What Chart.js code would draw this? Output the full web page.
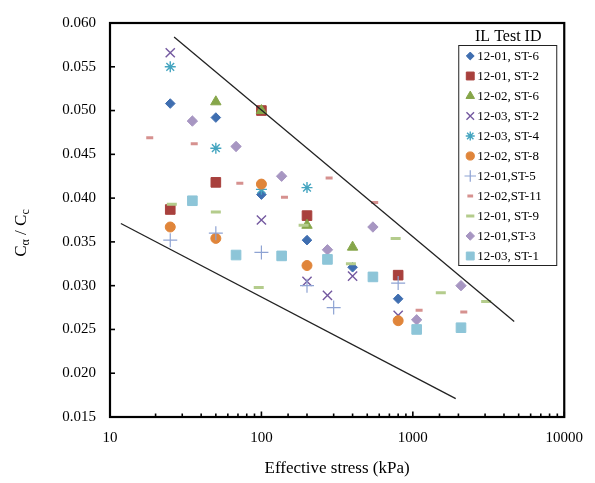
<!DOCTYPE html>
<html>
<head>
<meta charset="utf-8">
<script src="https://cdn.jsdelivr.net/npm/chart.js"></script>
<style>
  html, body { margin: 0; padding: 0; background: #fff; }
  #wrap { width: 595px; height: 483px; }
</style>
</head>
<body>
<div id="wrap"><canvas id="chart" width="595" height="483"></canvas></div>
<script>
// data: [effective stress (kPa), Ca/Cc]
const s1201_ST6 = [[25, 0.0508], [50, 0.0492], [100, 0.0404], [200, 0.0352], [400, 0.0321], [800, 0.0285]];
const s1201_ST2 = [[25, 0.0387], [50, 0.0418], [100, 0.0500], [200, 0.0380], [800, 0.0312]];
const s1202_ST6 = [[50, 0.0510], [100, 0.0500], [200, 0.0369], [400, 0.0344]];
const s1203_ST2 = [[25, 0.0566], [100, 0.0375], [200, 0.0305], [273, 0.0289], [400, 0.0311], [800, 0.0266]];
const s1203_ST4 = [[25, 0.0550], [50, 0.0457], [100, 0.0410], [200, 0.0412]];
const s1202_ST8 = [[25, 0.0367], [50, 0.0354], [100, 0.0416], [200, 0.0323], [800, 0.0260]];
const s1201_ST5 = [[25, 0.0352], [50, 0.0360], [100, 0.0338], [200, 0.0300], [300, 0.0275], [800, 0.0303]];
const s1202_ST11 = [[18.3, 0.0469], [36, 0.0462], [72, 0.0417], [142, 0.0401], [280, 0.0423], [560, 0.0395], [1100, 0.0272], [2170, 0.0270]];
const s1201_ST9 = [[25.6, 0.0393], [50, 0.0384], [96, 0.0298], [190, 0.0369], [390, 0.0325], [770, 0.0354], [1530, 0.0292], [3050, 0.0282]];
const s1201_ST3 = [[35, 0.0488], [68, 0.0459], [136, 0.0425], [273, 0.0341], [545, 0.0367], [1060, 0.0261], [2080, 0.0300]];
const s1203_ST1 = [[35, 0.0397], [68, 0.0335], [136, 0.0334], [273, 0.0330], [545, 0.0310], [1060, 0.0250], [2080, 0.0252]];

// bounding lines
const upperBound = [[26.5, 0.0584], [4670, 0.0259]];
const lowerBound = [[11.8, 0.0371], [1920, 0.0171]];

const seriesNames = ['12-01, ST-6', '12-01, ST-2', '12-02, ST-6', '12-03, ST-2', '12-03, ST-4', '12-02, ST-8',
                     '12-01,ST-5', '12-02,ST-11', '12-01, ST-9', '12-01,ST-3', '12-03, ST-1'];
const seriesData = [s1201_ST6, s1201_ST2, s1202_ST6, s1203_ST2, s1203_ST4, s1202_ST8,
                    s1201_ST5, s1202_ST11, s1201_ST9, s1201_ST3, s1203_ST1];
const yTickStep = 0.005;
const xLabelled = [10, 100, 1000, 10000];

// marker looks (Excel style)
const markers = [
    { color: '#3F6EB0', style: 'rectRot', r: 4.8, w: 1 },
    { color: '#A8403D', style: 'rect', r: 6.8, w: 1 },
    { color: '#86A64A', style: 'triangle', r: 6, w: 1 },
    { color: '#7459A0', style: 'crossRot', r: 6.5, w: 1.4 },
    { color: '#45A5C0', style: 'star', r: 5.5, w: 1.4 },
    { color: '#E0853A', style: 'circle', r: 5, w: 1 },
    { color: '#8EA3D3', style: 'cross', r: 7, w: 1.2 },
    { color: '#D6918F', style: 'line', r: 3.5, w: 3 },
    { color: '#B4CC8C', style: 'line', r: 5, w: 3 },
    { color: '#A796C2', style: 'rectRot', r: 5.2, w: 1 },
    { color: '#8DC5D8', style: 'rect', r: 6.8, w: 1 }
];

const toPts = arr => arr.map(([x, y]) => ({ x: x, y: y }));

// later series sit on top, like in the original
const datasets = seriesData.map((d, i) => ({
    label: seriesNames[i],
    data: toPts(d),
    order: 50 - i,
    pointStyle: markers[i].style,
    pointRadius: markers[i].r,
    pointBorderWidth: markers[i].w,
    backgroundColor: markers[i].color,
    borderColor: markers[i].color,
    showLine: false
}));

[upperBound, lowerBound].forEach(b => {
    datasets.push({
        label: '',
        data: toPts(b),
        order: 0,
        showLine: true,
        pointRadius: 0,
        borderColor: '#222',
        borderWidth: 1.3
    });
});

const serif = '"Liberation Serif", "Times New Roman", serif';

// frame, inside ticks, y title and the boxed legend
const decor = {
    id: 'decor',
    afterDraw(chart) {
        const ctx = chart.ctx;
        const a = chart.chartArea;
        const xs = chart.scales.x, ys = chart.scales.y;
        ctx.save();
        ctx.strokeStyle = '#000';
        ctx.lineWidth = 1.6;
        ys.ticks.forEach(t => {
            const py = ys.getPixelForValue(t.value);
            ctx.beginPath(); ctx.moveTo(a.left, py); ctx.lineTo(a.left + 5, py); ctx.stroke();
        });
        xs.ticks.forEach(t => {
            const px = xs.getPixelForValue(t.value);
            const major = xLabelled.includes(t.value);
            ctx.beginPath(); ctx.moveTo(px, a.bottom); ctx.lineTo(px, a.bottom - (major ? 5.5 : 3.5)); ctx.stroke();
        });
        ctx.lineWidth = 2.2;
        ctx.strokeRect(a.left, a.top, a.right - a.left, a.bottom - a.top);

        // y axis title: C_alpha / C_c
        ctx.fillStyle = '#000';
        ctx.translate(21, 233);
        ctx.rotate(-Math.PI / 2);
        const big = '17px ' + serif, small = '12px ' + serif;
        const parts = [['C', big, 0], ['\u03b1', small, 4], [' / C', big, 0], ['c', small, 4]];
        let total = 0;
        parts.forEach(p => { ctx.font = p[1]; total += ctx.measureText(p[0]).width; });
        let cx = -total / 2;
        ctx.textBaseline = 'middle';
        ctx.textAlign = 'left';
        parts.forEach(p => {
            ctx.font = p[1];
            ctx.fillText(p[0], cx, p[2] + 1);
            cx += ctx.measureText(p[0]).width;
        });
        ctx.setTransform(1, 0, 0, 1, 0, 0);

        // legend
        const bx = a.right - 106, by = 45, bw = 98, bh = 220;
        ctx.fillStyle = '#fff';
        ctx.fillRect(bx, by, bw, bh);
        ctx.lineWidth = 1;
        ctx.strokeStyle = '#222';
        ctx.strokeRect(bx + 0.5, by + 0.5, bw, bh);
        ctx.fillStyle = '#000';
        ctx.font = '16px ' + serif;
        ctx.textAlign = 'center';
        ctx.textBaseline = 'middle';
        ctx.fillText('IL Test ID', bx + 50, 37);
        ctx.font = '13px ' + serif;
        ctx.textAlign = 'left';
        seriesNames.forEach((name, i) => {
            const y = by + 11 + i * 20;
            const m = markers[i];
            ctx.fillStyle = m.color;
            ctx.strokeStyle = m.color;
            ctx.lineWidth = m.w;
            Chart.helpers.drawPoint(ctx, { pointStyle: m.style, rotation: 0, radius: m.r * 0.82, borderWidth: m.w }, bx + 12, y);
            ctx.fillStyle = '#000';
            ctx.fillText(name, bx + 19, y + 1);
        });
        ctx.restore();
    }
};

new Chart(document.getElementById('chart'), {
    type: 'scatter',
    data: { datasets: datasets },
    options: {
        responsive: false,
        animation: false,
        layout: { padding: { left: 0, right: 29, top: 13, bottom: 0 } },
        plugins: {
            legend: { display: false },
            tooltip: { enabled: false }
        },
        scales: {
            x: {
                type: 'logarithmic',
                min: 10,
                max: 10000,
                grid: { display: false, drawTicks: false },
                border: { display: false },
                ticks: {
                    autoSkip: false,
                    maxRotation: 0,
                    padding: 12,
                    color: '#000',
                    font: { family: serif, size: 15 },
                    callback: v => xLabelled.includes(v) ? String(v) : ''
                },
                title: {
                    display: true,
                    text: 'Effective stress (kPa)',
                    color: '#000',
                    font: { family: serif, size: 17 },
                    padding: { top: 6, bottom: 4 }
                },
                afterFit: s => { s.height = 66; }
            },
            y: {
                min: 0.015,
                max: 0.06,
                grid: { display: false, drawTicks: false },
                border: { display: false },
                ticks: {
                    stepSize: yTickStep,
                    padding: 14,
                    color: '#000',
                    font: { family: serif, size: 15 },
                    callback: v => v.toFixed(3)
                },
                afterFit: s => { s.width = 110; }
            }
        }
    },
    plugins: [decor]
});
</script>
</body>
</html>
